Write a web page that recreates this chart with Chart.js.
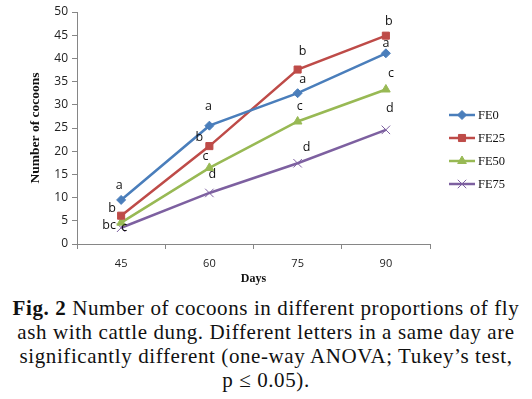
<!DOCTYPE html>
<html>
<head>
<meta charset="utf-8">
<script src="https://cdn.jsdelivr.net/npm/chart.js@4.4.1/dist/chart.umd.min.js"></script>
<style>
  html, body { margin: 0; padding: 0; background: #fff; }
  #wrap { position: relative; width: 532px; height: 290px; }
  #caption {
    position: absolute; left: 0; top: 296px; width: 532px;
    font-family: 'Liberation Serif', 'DejaVu Serif', serif;
    font-size: 21px; line-height: 24px; letter-spacing: 0.6px;
    text-align: center; color: #111;
  }
</style>
</head>
<body>
<div id="wrap"><canvas id="chart" width="532" height="290"></canvas></div>
<div id="caption"><b>Fig. 2</b> Number of cocoons in different proportions of fly<br>ash with cattle dung. Different letters in a same day are<br>significantly different (one-way ANOVA; Tukey’s test,<br>p ≤ 0.05).</div>
<script>
// values
const days = ['45', '60', '75', '90'];
const fe0 = [9.5, 25.5, 32.5, 41.1];
const fe25 = [6.1, 21.1, 37.6, 44.9];
const fe50 = [4.6, 16.4, 26.4, 33.3];
const fe75 = [3.5, 11.0, 17.4, 24.6];
// Tukey letters per series and day
const fe0Letters = ['a', 'a', 'a', 'a'];
const fe25Letters = ['b', 'b', 'b', 'b'];
const fe50Letters = ['bc', 'c', 'c', 'c'];
const fe75Letters = ['c', 'd', 'd', 'd'];

// label nudges (px) from each point, same order as the datasets
const labelOffsets = [
  [[-2, -14], [-1, -19], [5, -14], [0, -10]],
  [[-9, -7], [-10, -9], [5, -18], [3, -14]],
  [[-12, 3], [-4, -11], [2, -15], [5, -16]],
  [[3, 0], [3, -19], [9, -16], [4, -21]]
];

const axisGray = '#868686';

const letterPlugin = {
  id: 'letters',
  afterDatasetsDraw(chart) {
    const ctx = chart.ctx;
    const all = [fe0Letters, fe25Letters, fe50Letters, fe75Letters];
    ctx.save();
    ctx.font = '12.5px "Open Sans", "Liberation Sans", sans-serif';
    ctx.fillStyle = '#111';
    ctx.textAlign = 'center';
    ctx.textBaseline = 'middle';
    chart.data.datasets.forEach((ds, i) => {
      chart.getDatasetMeta(i).data.forEach((pt, j) => {
        const off = labelOffsets[i][j];
        ctx.fillText(all[i][j], pt.x + off[0], pt.y + off[1]);
      });
    });
    ctx.restore();
  }
};

const legendPlugin = {
  id: 'sideLegend',
  afterDraw(chart) {
    const ctx = chart.ctx;
    const x0 = 449, x1 = 475;
    ctx.save();
    chart.data.datasets.forEach((ds, i) => {
      const y = 115 + i * 23;
      ctx.strokeStyle = ds.borderColor;
      ctx.fillStyle = ds.borderColor;
      ctx.lineWidth = 2.5;
      ctx.beginPath();
      ctx.moveTo(x0, y);
      ctx.lineTo(x1, y);
      ctx.stroke();
      ctx.lineWidth = 1;
      Chart.helpers.drawPoint(ctx, {
        pointStyle: ds.pointStyle,
        radius: ds.pointRadius,
        borderWidth: 1,
        rotation: 0
      }, (x0 + x1) / 2, y);
      ctx.fillStyle = '#111';
      ctx.font = '12.5px "Liberation Serif", serif';
      ctx.textAlign = 'left';
      ctx.textBaseline = 'middle';
      ctx.fillText(ds.label, 478, y + 1);
    });
    ctx.restore();
  }
};

function series(label, data, color, style, radius) {
  return {
    label: label,
    data: data,
    borderColor: color,
    backgroundColor: color,
    pointBackgroundColor: color,
    pointBorderColor: color,
    pointStyle: style,
    pointRadius: radius,
    pointBorderWidth: 1,
    borderWidth: 2.5,
    tension: 0
  };
}

new Chart(document.getElementById('chart'), {
  type: 'line',
  data: {
    labels: days,
    datasets: [
      series('FE0', fe0, '#4A7EBB', 'rectRot', 4.5),
      series('FE25', fe25, '#BE4B48', 'rect', 5),
      series('FE50', fe50, '#98B954', 'triangle', 5),
      series('FE75', fe75, '#7D60A0', 'crossRot', 6)
    ]
  },
  options: {
    responsive: false,
    animation: false,
    layout: {
      padding: { left: 23, top: 12, right: 102, bottom: 0 }
    },
    plugins: {
      legend: { display: false },
      tooltip: { enabled: false }
    },
    scales: {
      x: {
        offset: true,
        afterFit(scale) { scale.height = 46; },
        border: { color: axisGray, width: 1 },
        grid: {
          offset: true,
          drawOnChartArea: false,
          color: axisGray,
          tickLength: 5
        },
        ticks: {
          color: '#222',
          font: { family: '"Open Sans", "Liberation Sans", sans-serif', size: 11 },
          padding: 8
        },
        title: {
          display: true,
          text: 'Days',
          color: '#111',
          font: { family: '"Liberation Serif", serif', size: 12, weight: 'bold' },
          padding: { top: 3 }
        }
      },
      y: {
        min: 0,
        max: 50,
        afterFit(scale) { scale.width = 54; },
        border: { color: axisGray, width: 1 },
        grid: {
          drawOnChartArea: false,
          color: axisGray,
          tickLength: 5
        },
        ticks: {
          stepSize: 5,
          color: '#222',
          font: { family: '"Open Sans", "Liberation Sans", sans-serif', size: 12 },
          padding: 4
        },
        title: {
          display: true,
          text: 'Number of cocoons',
          color: '#111',
          font: { family: '"Liberation Serif", serif', size: 13.5, weight: 'bold' },
          padding: { top: 4, bottom: 4 }
        }
      }
    }
  },
  plugins: [letterPlugin, legendPlugin]
});
</script>
</body>
</html>
